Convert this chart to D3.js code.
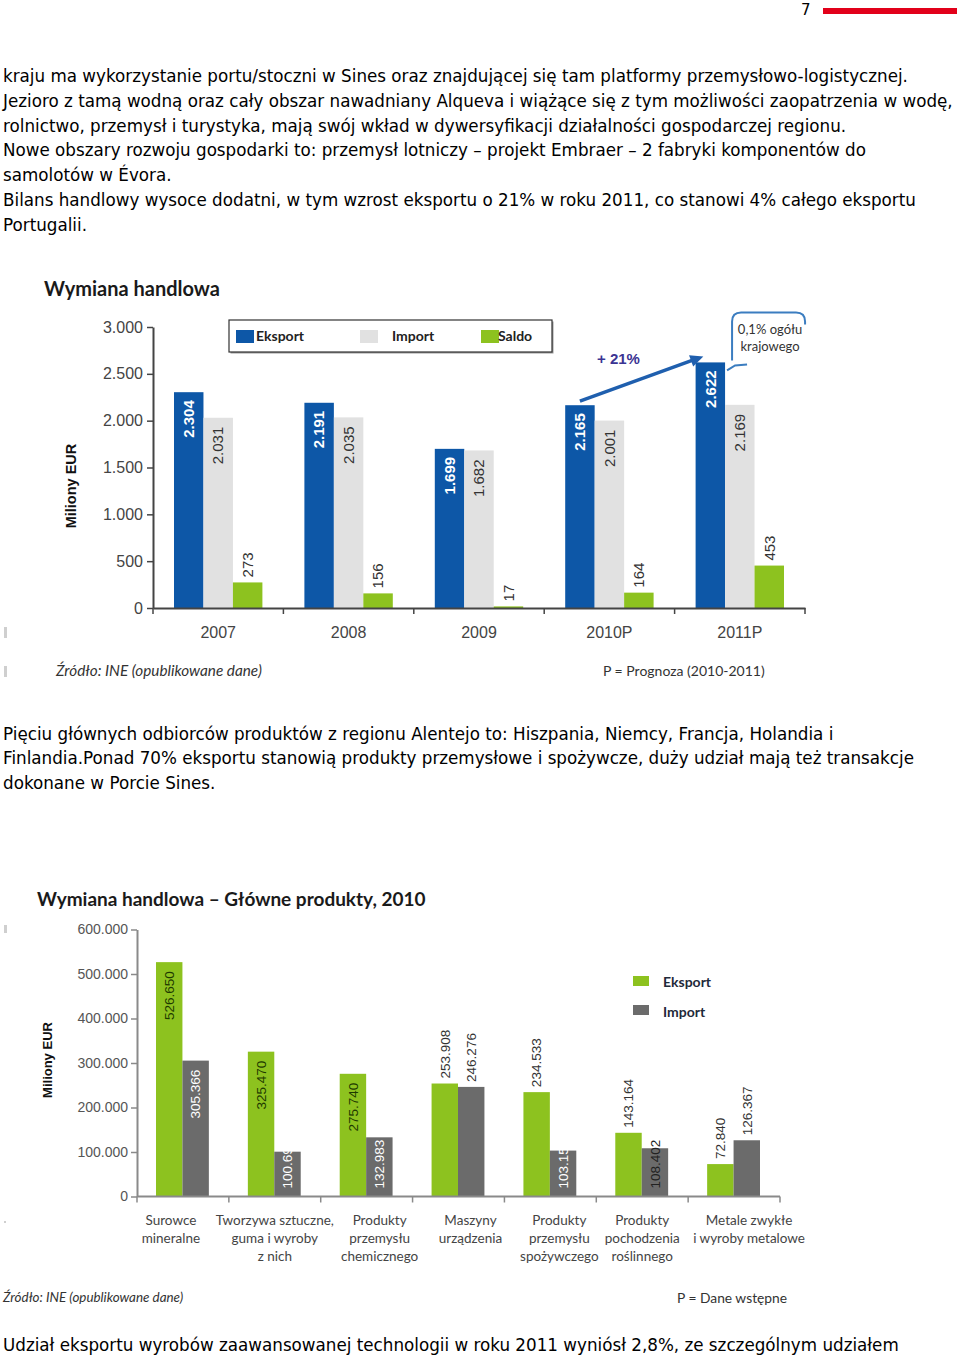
<!DOCTYPE html>
<html>
<head>
<meta charset="utf-8">
<script src="https://cdn.jsdelivr.net/npm/d3@7"></script>
<style>
  body { margin: 0; background: #fff; }
  svg { display: block; }
</style>
</head>
<body>
<svg id="page" width="960" height="1357"></svg>
<script>
// ---- data ----
const paragraph1 = [
    'kraju ma wykorzystanie portu/stoczni w Sines oraz znajdującej się tam platformy przemysłowo-logistycznej.',
    'Jezioro z tamą wodną oraz cały obszar nawadniany Alqueva i wiążące się z tym możliwości zaopatrzenia w wodę,',
    'rolnictwo, przemysł i turystyka, mają swój wkład w dywersyfikacji działalności gospodarczej regionu.',
    'Nowe obszary rozwoju gospodarki to: przemysł lotniczy – projekt Embraer – 2 fabryki komponentów do',
    'samolotów w Évora.',
    'Bilans handlowy wysoce dodatni, w tym wzrost eksportu o 21% w roku 2011, co stanowi 4% całego eksportu',
    'Portugalii.'
];
const paragraph2 = [
    'Pięciu głównych odbiorców produktów z regionu Alentejo to: Hiszpania, Niemcy, Francja, Holandia i',
    'Finlandia.Ponad 70% eksportu stanowią produkty przemysłowe i spożywcze, duży udział mają też transakcje',
    'dokonane w Porcie Sines.'
];
const paragraph3 = [
    'Udział eksportu wyrobów zaawansowanej technologii w roku 2011 wyniósł 2,8%, ze szczególnym udziałem'
];

// chart 1: Wymiana handlowa
const years = ['2007', '2008', '2009', '2010P', '2011P'];
const series1 = ['Eksport', 'Import', 'Saldo'];
const eksport = [2304, 2191, 1699, 2165, 2622];
const importVals = [2031, 2035, 1682, 2001, 2169];
const saldo = [273, 156, 17, 164, 453];
const yTicks1 = [0, 500, 1000, 1500, 2000, 2500, 3000];

// chart 2: Wymiana handlowa – Główne produkty, 2010
const products = [
    ['Surowce', 'mineralne'],
    ['Tworzywa sztuczne,', 'guma i wyroby', 'z nich'],
    ['Produkty', 'przemysłu', 'chemicznego'],
    ['Maszyny', 'urządzenia'],
    ['Produkty', 'przemysłu', 'spożywczego'],
    ['Produkty', 'pochodzenia', 'roślinnego'],
    ['Metale zwykłe', 'i wyroby metalowe']
];
const series2 = ['Eksport', 'Import'];
const eksport2010 = [526650, 325470, 275740, 253908, 234533, 143164, 72840];
const import2010 = [305366, 100690, 132983, 246276, 103150, 108402, 126367];
const yTicks2 = [0, 100000, 200000, 300000, 400000, 500000, 600000];

// where the value labels sit in chart 2 (inside the bar or above it)
const eksportLabelInside = [true, true, true, false, false, false, false];
const importLabelInside = [true, true, true, false, true, true, false];
// the wrapped category labels are not exactly centred under their groups
const categoryNudge = [-12, 0, 13, 12, 9, 0, 15];

// ---- styling ----
const TEXT_FONT = '"DejaVu Sans", sans-serif';
const CHART_FONT = '"Liberation Sans", Arial, sans-serif';
const LABEL_FONT = 'Lato, "Open Sans", sans-serif';

const fmt = d3.formatLocale({ decimal: ',', thousands: '.', grouping: [3], currency: ['', ''] }).format(',');
const svg = d3.select('#page');

drawHeader();
drawParagraph(paragraph1, 82);
drawParagraph(paragraph2, 739.5);
drawParagraph(paragraph3, 1351);
drawTradeChart();
drawProductsChart();

function drawHeader () {
    svg.append('text')
        .attr('x', 801)
        .attr('y', 15)
        .style('font-family', TEXT_FONT)
        .style('font-size', '15px')
        .text('7');

    svg.append('rect')
        .attr('x', 823).attr('y', 8)
        .attr('width', 134).attr('height', 6)
        .attr('fill', '#e2001a');
}

function drawParagraph (lines, y0) {
    svg.append('g')
        .selectAll('text')
        .data(lines)
        .enter()
        .append('text')
        .attr('x', 3)
        .attr('y', (d, i) => y0 + i * 24.8)
        .style('font-family', TEXT_FONT)
        .style('font-size', '16.75px')
        .style('fill', '#000')
        .text(d => d);
}

// rotated (reading upwards) value label
function valueLabel (g, cx, y, text, anchor, color, weight, size) {
    g.append('text')
        .attr('transform', 'translate(' + cx + ',' + y + ') rotate(-90)')
        .attr('dy', '0.35em')
        .attr('text-anchor', anchor)
        .style('font-family', CHART_FONT)
        .style('font-size', size)
        .style('font-weight', weight)
        .style('fill', color)
        .text(text);
}

function scanMark (x, y, w, h) {
    svg.append('rect').attr('x', x).attr('y', y).attr('width', w).attr('height', h).attr('fill', '#cfcfcf');
}

function drawTradeChart () {
    const g = svg.append('g');

    const x0 = d3.scaleBand().domain(years).range([153, 805]);
    const x1 = d3.scaleBand().domain(series1).range([21, x0.bandwidth() - 21]);
    const y = d3.scaleLinear().domain([0, 3000]).range([608, 327]);
    const color = d3.scaleOrdinal().domain(series1).range(['#0d57a7', '#e1e1e1', '#8dc21f']);

    const cells = [];
    years.forEach((year, i) => {
        [eksport[i], importVals[i], saldo[i]].forEach((value, j) => cells.push({ year, key: series1[j], value }));
    });

    g.append('text')
        .attr('x', 44).attr('y', 296)
        .style('font-family', LABEL_FONT)
        .style('font-size', '20px')
        .style('font-weight', 700)
        .style('fill', '#1a1a1a')
        .text('Wymiana handlowa');

    g.selectAll('.bar1')
        .data(cells)
        .enter()
        .append('rect')
        .attr('x', d => x0(d.year) + x1(d.key))
        .attr('y', d => y(d.value))
        .attr('width', x1.bandwidth())
        .attr('height', d => y(0) - y(d.value))
        .attr('fill', d => color(d.key));

    cells.forEach(d => {
        const cx = x0(d.year) + x1(d.key) + x1.bandwidth() / 2;
        if (d.key === 'Eksport') valueLabel(g, cx, y(d.value) + 8, fmt(d.value), 'end', '#fff', 700, '15px');
        else if (d.key === 'Import') valueLabel(g, cx, y(d.value) + 9, fmt(d.value), 'end', '#333', 400, '15px');
        else valueLabel(g, cx, y(d.value) - 5, fmt(d.value), 'start', '#333', 400, '15px');
    });

    // y axis
    const yAxis = g.append('g')
        .attr('transform', 'translate(153,0)')
        .call(d3.axisLeft(y).tickValues(yTicks1).tickFormat(fmt).tickSize(6).tickSizeOuter(0).tickPadding(4));
    yAxis.select('.domain').attr('stroke', '#444').attr('stroke-width', 2);
    yAxis.selectAll('.tick line').attr('stroke', '#444').attr('stroke-width', 1.5);
    yAxis.selectAll('.tick text').style('font-family', CHART_FONT).style('font-size', '16px').style('fill', '#444');

    // x axis: labels at band centres, ticks at band boundaries
    const xAxis = g.append('g')
        .attr('transform', 'translate(0,608)')
        .call(d3.axisBottom(x0).tickSize(0).tickPadding(19));
    xAxis.select('.domain').attr('stroke', '#444').attr('stroke-width', 2);
    xAxis.selectAll('.tick text').style('font-family', CHART_FONT).style('font-size', '16px').style('fill', '#444');
    const bounds = years.map(d => x0(d)).concat([x0.range()[1]]);
    xAxis.selectAll('.bound')
        .data(bounds)
        .enter()
        .append('line')
        .attr('x1', d => d).attr('x2', d => d)
        .attr('y1', 0).attr('y2', 6)
        .attr('stroke', '#444').attr('stroke-width', 1.5);

    g.append('text')
        .attr('transform', 'translate(76,486) rotate(-90)')
        .attr('text-anchor', 'middle')
        .style('font-family', CHART_FONT)
        .style('font-size', '14.5px')
        .style('font-weight', 700)
        .style('fill', '#111')
        .text('Miliony EUR');

    // legend box
    const legend = g.append('g').attr('transform', 'translate(229,320)');
    legend.append('rect').attr('x', 1.5).attr('y', 1.5).attr('width', 323).attr('height', 32).attr('fill', '#999');
    legend.append('rect').attr('width', 323).attr('height', 32).attr('fill', '#fff').attr('stroke', '#333').attr('stroke-width', 1.2);
    const swatchX = [7, 131, 252];
    const textX = [27, 163, 269];
    legend.selectAll('.sw')
        .data(series1)
        .enter()
        .append('rect')
        .attr('x', (d, i) => swatchX[i]).attr('y', 10)
        .attr('width', 18).attr('height', 13)
        .attr('fill', d => color(d));
    legend.selectAll('.lt')
        .data(series1)
        .enter()
        .append('text')
        .attr('x', (d, i) => textX[i]).attr('y', 21)
        .style('font-family', LABEL_FONT)
        .style('font-size', '14px')
        .style('font-weight', 700)
        .style('fill', '#222')
        .text(d => d);

    // growth arrow between the 2010P and 2011P export bars
    const ax1 = x0('2010P') + x1('Eksport') + x1.bandwidth() / 2;
    const ay1 = y(eksport[3]) - 4;
    const ax2 = x0('2011P') + x1('Eksport') + x1.bandwidth() / 2 - 7;
    const ay2 = y(eksport[4]) - 6;
    const ang = Math.atan2(ay2 - ay1, ax2 - ax1);
    g.append('line')
        .attr('x1', ax1).attr('y1', ay1)
        .attr('x2', ax2 - 9 * Math.cos(ang)).attr('y2', ay2 - 9 * Math.sin(ang))
        .attr('stroke', '#1f5fae').attr('stroke-width', 3.5);
    const head = [[0, 0], [-13, -6], [-13, 6]].map(p => [
        ax2 + p[0] * Math.cos(ang) - p[1] * Math.sin(ang),
        ay2 + p[0] * Math.sin(ang) + p[1] * Math.cos(ang)
    ]);
    g.append('polygon').attr('points', head.map(p => p.join(',')).join(' ')).attr('fill', '#1f5fae');

    g.append('text')
        .attr('x', 597).attr('y', 364)
        .style('font-family', CHART_FONT)
        .style('font-size', '15px')
        .style('font-weight', 700)
        .style('fill', '#3b3493')
        .text('+ 21%');

    // callout next to the 2011P export bar
    const bx = x0('2011P') + x1('Eksport') + x1.bandwidth();
    const by = y(eksport[4]);
    const left = bx + 7;
    const top = by - 50;
    g.append('path')
        .attr('d', 'M' + left + ',' + (top + 48) + 'V' + (top + 9) + 'Q' + left + ',' + top + ' ' + (left + 9) + ',' + top +
            'H' + (left + 64) + 'Q' + (left + 73) + ',' + top + ' ' + (left + 73) + ',' + (top + 9) + 'V' + (top + 12))
        .attr('fill', 'none').attr('stroke', '#3b7dc0').attr('stroke-width', 2);
    g.append('path')
        .attr('d', 'M' + (bx + 2) + ',' + (by + 8) + 'L' + (bx + 10) + ',' + (by + 3) + 'L' + (bx + 22) + ',' + (by + 2))
        .attr('fill', 'none').attr('stroke', '#3b7dc0').attr('stroke-width', 2);
    g.selectAll('.callout')
        .data(['0,1% ogółu', 'krajowego'])
        .enter()
        .append('text')
        .attr('x', left + 38)
        .attr('y', (d, i) => top + 22 + i * 17)
        .attr('text-anchor', 'middle')
        .style('font-family', LABEL_FONT)
        .style('font-size', '13px')
        .style('fill', '#333')
        .text(d => d);

    g.append('text')
        .attr('x', 56).attr('y', 676)
        .style('font-family', LABEL_FONT)
        .style('font-size', '15.3px')
        .style('font-style', 'italic')
        .style('fill', '#333')
        .text('Źródło: INE (opublikowane dane)');
    g.append('text')
        .attr('x', 603).attr('y', 676)
        .style('font-family', LABEL_FONT)
        .style('font-size', '14px')
        .style('fill', '#333')
        .text('P = Prognoza (2010-2011)');

    scanMark(4, 627, 3, 11);
    scanMark(4, 666, 3, 11);
}

function drawProductsChart () {
    const g = svg.append('g');

    const keys = products.map((d, i) => 'p' + i);
    const x0 = d3.scaleBand().domain(keys).range([137, 780]);
    const x1 = d3.scaleBand().domain(series2).range([19, x0.bandwidth() - 20]);
    const y = d3.scaleLinear().domain([0, 600000]).range([1196.5, 929.5]);
    const color = d3.scaleOrdinal().domain(series2).range(['#8dc21f', '#6b6b6b']);

    const cells = [];
    keys.forEach((key, i) => {
        cells.push({ key, i, series: 'Eksport', value: eksport2010[i], inside: eksportLabelInside[i] });
        cells.push({ key, i, series: 'Import', value: import2010[i], inside: importLabelInside[i] });
    });

    g.append('text')
        .attr('x', 37).attr('y', 906)
        .style('font-family', LABEL_FONT)
        .style('font-size', '19px')
        .style('font-weight', 700)
        .style('fill', '#1a1a1a')
        .text('Wymiana handlowa – Główne produkty, 2010');

    g.selectAll('.bar2')
        .data(cells)
        .enter()
        .append('rect')
        .attr('x', d => x0(d.key) + x1(d.series))
        .attr('y', d => y(d.value))
        .attr('width', x1.bandwidth())
        .attr('height', d => y(0) - y(d.value))
        .attr('fill', d => color(d.series));

    cells.forEach(d => {
        const cx = x0(d.key) + x1(d.series) + x1.bandwidth() / 2;
        const label = fmt(d.value);
        if (!d.inside) {
            valueLabel(g, cx, y(d.value) - 5, label, 'start', '#333', 400, '13.5px');
            return;
        }
        const ink = d.series === 'Eksport' ? '#1e3a00' : (d.i === 5 ? '#222' : '#fff');
        if (y(0) - y(d.value) > 62) valueLabel(g, cx, y(d.value) + 9, label, 'end', ink, 400, '13.5px');
        else valueLabel(g, cx, y(0) - 8, label, 'start', ink, 400, '13.5px');
    });

    const yAxis = g.append('g')
        .attr('transform', 'translate(137,0)')
        .call(d3.axisLeft(y).tickValues(yTicks2).tickFormat(fmt).tickSize(6).tickSizeOuter(0).tickPadding(3));
    yAxis.select('.domain').attr('stroke', '#8a8a8a').attr('stroke-width', 2);
    yAxis.selectAll('.tick line').attr('stroke', '#8a8a8a').attr('stroke-width', 1.5);
    yAxis.selectAll('.tick text').style('font-family', CHART_FONT).style('font-size', '14px').style('fill', '#555');

    g.append('line')
        .attr('x1', 137).attr('x2', 780)
        .attr('y1', y(0)).attr('y2', y(0))
        .attr('stroke', '#8a8a8a').attr('stroke-width', 2);
    const bounds = keys.map(d => x0(d)).concat([x0.range()[1]]);
    g.selectAll('.bound2')
        .data(bounds)
        .enter()
        .append('line')
        .attr('x1', d => d).attr('x2', d => d)
        .attr('y1', y(0)).attr('y2', y(0) + 6)
        .attr('stroke', '#8a8a8a').attr('stroke-width', 1.5);

    // wrapped category labels
    const xl = g.selectAll('.xlab')
        .data(products)
        .enter()
        .append('text')
        .attr('text-anchor', 'middle')
        .style('font-family', LABEL_FONT)
        .style('font-size', '13.5px')
        .style('fill', '#444');
    xl.selectAll('tspan')
        .data((d, i) => d.map(line => ({ line, cx: x0(keys[i]) + x0.bandwidth() / 2 + categoryNudge[i] })))
        .enter()
        .append('tspan')
        .attr('x', d => d.cx)
        .attr('y', (d, j) => 1225 + j * 18)
        .text(d => d.line);

    g.append('text')
        .attr('transform', 'translate(52,1060) rotate(-90)')
        .attr('text-anchor', 'middle')
        .style('font-family', CHART_FONT)
        .style('font-size', '13px')
        .style('font-weight', 700)
        .style('fill', '#111')
        .text('Miliony EUR');

    const legend = g.append('g').attr('transform', 'translate(633,976)');
    legend.selectAll('rect')
        .data(series2)
        .enter()
        .append('rect')
        .attr('x', 0).attr('y', (d, i) => i * 29)
        .attr('width', 16).attr('height', 10)
        .attr('fill', d => color(d));
    legend.selectAll('text')
        .data(series2)
        .enter()
        .append('text')
        .attr('x', 30).attr('y', (d, i) => 11 + i * 30)
        .style('font-family', LABEL_FONT)
        .style('font-size', '14px')
        .style('font-weight', 700)
        .style('fill', '#1f2a3a')
        .text(d => d);

    g.append('text')
        .attr('x', 3).attr('y', 1302)
        .style('font-family', LABEL_FONT)
        .style('font-size', '13.4px')
        .style('font-style', 'italic')
        .style('fill', '#333')
        .text('Źródło: INE (opublikowane dane)');
    g.append('text')
        .attr('x', 677).attr('y', 1303)
        .style('font-family', LABEL_FONT)
        .style('font-size', '13.8px')
        .style('fill', '#333')
        .text('P = Dane wstępne');

    scanMark(4, 925, 3, 8);
    scanMark(4, 1221, 2, 2);
}
</script>
</body>
</html>
